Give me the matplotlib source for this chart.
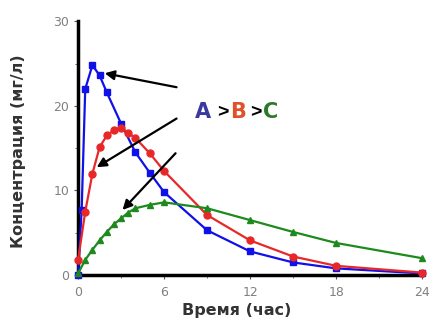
import matplotlib
matplotlib.use("Agg")
import matplotlib.pyplot as plt

# время (ч) и концентрации (мг/л)
t_a = [0, 0.25, 0.5, 1, 1.5, 2, 3, 4, 5, 6, 9, 12, 15, 18, 24]
c_a = [0, 7.7, 22, 24.8, 23.6, 21.6, 17.9, 14.5, 12.1, 9.8, 5.3, 2.8, 1.5, 0.8, 0.2]

t_b = [0, 0.5, 1, 1.5, 2, 2.5, 3, 3.5, 4, 5, 6, 9, 12, 15, 18, 24]
c_b = [1.8, 7.5, 12, 15.1, 16.5, 17.1, 17.4, 16.8, 16.2, 14.4, 12.3, 7.1, 4.1, 2.2, 1.1, 0.3]

t_c = [0, 0.5, 1, 1.5, 2, 2.5, 3, 3.5, 4, 5, 6, 9, 12, 15, 18, 24]
c_c = [0.2, 1.8, 3, 4.1, 5.1, 6.0, 6.7, 7.4, 7.9, 8.3, 8.6, 7.9, 6.5, 5.1, 3.8, 2.0]

x_ticks = [0, 6, 12, 18, 24]
y_ticks = [0, 10, 20, 30]

fig = plt.figure(figsize=(4.29, 3.26), dpi=100)
ax = fig.add_axes([0.182, 0.156, 0.802, 0.779])

ax.plot(t_a, c_a, color='#1010e8', marker='s', ms=5, lw=1.6, clip_on=False, zorder=3)
ax.plot(t_b, c_b, color='#e82828', marker='o', ms=5, lw=1.6, clip_on=False, zorder=3)
ax.plot(t_c, c_c, color='#1e8a1e', marker='^', ms=5, lw=1.6, clip_on=False, zorder=4)

# стрелки к кривым
arrows = [((6.87, 22.2), (1.86, 23.85)),
          ((6.87, 18.5), (1.3, 12.75)),
          ((6.8, 14.4), (3.1, 7.7))]
for tail, tip in arrows:
    ax.annotate('', xy=tip, xytext=tail,
                arrowprops=dict(arrowstyle='-|>', color='black', lw=1.6,
                                mutation_scale=14, shrinkA=0, shrinkB=0),
                zorder=5)

# надпись A>B>C (буквы и знаки отдельно, чтобы раскрасить)
base = 18.6
letters = [('A', '#3a3a9e', 8.12), ('B', '#e0502a', 10.6), ('C', '#2a7a2a', 12.9)]
for s, col, xp in letters:
    ax.text(xp, base, s, color=col, fontsize=15, fontweight='bold',
            va='baseline', ha='left')
for xp in [9.7, 12.02]:
    ax.text(xp, base + 0.1, '>', color='black', fontsize=14, fontweight='bold',
            family=['Liberation Sans', 'DejaVu Sans'], va='baseline', ha='left')

ax.set_xlim(0, 24)
ax.set_ylim(0, 30)
ax.set_xticks(x_ticks)
ax.set_yticks(y_ticks)
ax.set_xticks([3, 9, 15, 21], minor=True)
ax.set_yticks([5, 15, 25], minor=True)
ax.tick_params(labelsize=9, labelcolor='#808080', color='#555555', length=3)
ax.tick_params(axis='x', pad=5)
ax.tick_params(which='minor', length=2, color='#555555')
for lab in ax.get_xticklabels() + ax.get_yticklabels():
    lab.set_family(['Liberation Sans Narrow', 'DejaVu Sans'])

for s in ['top', 'right']:
    ax.spines[s].set_visible(False)
ax.spines['left'].set_linewidth(2.5)
ax.spines['bottom'].set_linewidth(2.5)

ax.set_xlabel('Время (час)', fontsize=11.5, fontweight='bold', color='#333333')
ax.set_ylabel('Концентрация (мг/л)', fontsize=11.5, fontweight='bold', color='#333333')
ax.xaxis.set_label_coords(0.46, -0.11)
ax.yaxis.set_label_coords(-0.15, 0.49)

fig.savefig('out.png', dpi=100)
